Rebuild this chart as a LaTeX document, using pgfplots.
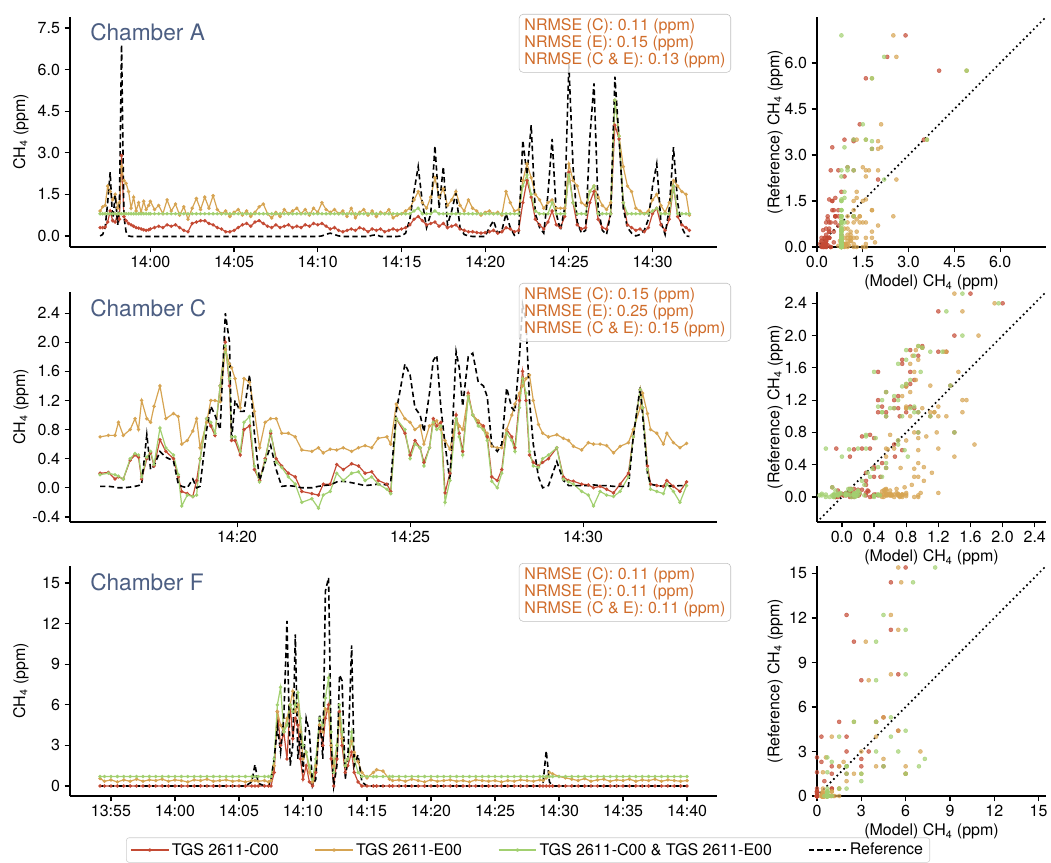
\documentclass[border=0pt]{standalone}
\usepackage{fontspec}
\setmainfont{TeX Gyre Heros}
\usepackage{pgfplots}
\usepackage{pgfplotstable}
\pgfplotsset{compat=1.18}
\definecolor{cred}{RGB}{196,74,52}
\definecolor{corg}{RGB}{214,164,82}
\definecolor{cgrn}{RGB}{162,208,112}
\definecolor{ctitle}{RGB}{76,94,130}
\definecolor{cnrm}{RGB}{208,108,42}

\pgfplotstableread{
t c e ce r
-3.00 0.30 0.90 0.80 0.00
-2.85 0.30 1.05 0.80 0.05
-2.70 0.32 1.10 0.80 0.30
-2.55 0.50 1.80 0.80 1.20
-2.40 0.90 1.60 0.80 2.30
-2.25 0.55 1.30 0.80 0.50
-2.10 0.50 1.50 0.80 1.50
-1.95 0.80 1.00 0.80 0.40
-1.85 0.60 1.20 0.80 1.00
-1.72 2.90 2.50 0.80 6.90
-1.58 0.70 2.00 0.80 0.70
-1.45 0.55 1.90 0.80 0.15
-1.30 0.45 1.60 0.80 0.00
-1.15 0.40 1.00 0.80 -0.02
-1.00 0.35 1.40 0.80 -0.02
-0.85 0.30 0.90 0.80 -0.02
-0.70 0.28 1.20 0.80 -0.02
-0.55 0.25 0.85 0.80 -0.02
-0.40 0.22 1.25 0.80 -0.02
-0.25 0.20 0.95 0.80 -0.02
-0.10 0.22 1.10 0.80 -0.02
0.00 0.25 1.25 0.80 -0.02
0.25 0.30 0.95 0.80 -0.02
0.50 0.35 1.10 0.80 -0.02
0.75 0.30 0.80 0.80 -0.02
1.00 0.40 1.30 0.80 -0.02
1.25 0.35 0.90 0.80 -0.02
1.50 0.40 1.15 0.80 -0.02
1.75 0.30 0.75 0.80 -0.02
2.00 0.20 1.05 0.80 -0.02
2.25 0.15 0.60 0.80 -0.02
2.50 0.45 1.00 0.80 -0.02
2.75 0.50 1.35 0.80 -0.02
3.00 0.55 0.95 0.80 -0.02
3.25 0.55 1.40 0.80 -0.02
3.50 0.45 1.00 0.80 -0.02
3.75 0.40 1.45 0.80 -0.02
4.00 0.30 0.95 0.80 -0.02
4.25 0.25 0.80 0.80 -0.02
4.50 0.15 0.90 0.80 -0.02
4.75 0.15 0.70 0.80 -0.02
5.00 0.20 0.85 0.80 -0.02
5.25 0.30 0.95 0.80 -0.02
5.50 0.40 0.75 0.80 -0.02
5.75 0.45 0.90 0.80 -0.02
6.00 0.35 0.70 0.80 -0.02
6.25 0.50 0.85 0.80 -0.02
6.50 0.55 1.05 0.80 -0.02
6.75 0.45 1.15 0.80 -0.02
7.00 0.35 0.80 0.80 -0.02
7.25 0.30 0.65 0.80 -0.02
7.50 0.40 0.85 0.80 -0.02
7.75 0.30 0.70 0.80 -0.02
8.00 0.35 0.95 0.80 -0.02
8.25 0.40 0.80 0.80 -0.02
8.50 0.30 0.90 0.80 -0.02
8.75 0.35 1.00 0.80 -0.02
9.00 0.30 0.80 0.80 -0.02
9.25 0.40 0.95 0.80 -0.02
9.50 0.35 0.75 0.80 -0.02
9.75 0.45 1.00 0.80 -0.02
10.00 0.40 0.85 0.80 -0.02
10.25 0.45 1.20 0.80 0.00
10.50 0.35 0.95 0.80 0.06
10.75 0.25 0.85 0.80 0.10
11.00 0.30 0.95 0.80 0.05
11.25 0.20 0.80 0.80 0.00
11.50 0.15 0.90 0.80 -0.02
11.75 0.20 0.70 0.80 -0.02
12.00 0.25 1.00 0.80 -0.02
12.25 0.20 0.65 0.80 -0.02
12.50 0.30 0.85 0.80 -0.02
12.75 0.25 0.95 0.80 -0.02
13.00 0.15 0.75 0.80 -0.02
13.25 0.25 0.90 0.80 0.02
13.50 0.20 0.70 0.80 0.04
13.75 0.25 0.85 0.80 -0.02
14.00 0.15 0.80 0.80 -0.02
14.25 0.20 0.95 0.80 -0.02
14.50 0.25 0.65 0.80 -0.02
14.75 0.20 0.75 0.80 -0.02
15.00 0.25 0.80 0.80 0.00
15.25 0.30 0.90 0.80 0.10
15.50 0.40 1.00 0.80 0.60
15.75 0.60 1.30 0.90 1.60
16.00 0.70 1.60 1.00 2.50
16.25 0.55 1.20 0.80 1.20
16.50 0.40 1.00 0.80 0.30
16.75 0.45 1.40 0.80 0.80
17.00 0.50 2.10 0.90 3.25
17.25 0.35 1.40 0.80 1.00
17.50 0.45 1.70 0.80 2.50
17.75 0.30 1.10 0.80 0.40
18.00 0.35 1.30 0.80 0.90
18.25 0.40 1.60 0.80 1.55
18.50 0.25 1.10 0.80 0.30
18.75 0.20 0.90 0.80 0.05
19.00 0.15 1.30 0.80 0.00
19.25 0.15 1.00 0.80 -0.02
19.50 0.12 0.90 0.80 -0.02
19.75 0.10 0.75 0.80 -0.02
20.00 0.12 0.85 0.80 -0.02
20.25 0.15 0.90 0.80 0.30
20.50 0.20 0.80 0.80 0.55
20.75 0.10 0.85 0.80 0.10
21.00 0.15 0.75 0.80 0.20
21.25 0.30 1.60 0.80 0.80
21.50 0.25 1.20 0.80 0.30
21.75 0.15 0.90 0.80 0.02
22.00 0.20 0.95 0.80 0.10
22.25 1.20 2.00 1.80 3.45
22.50 2.00 2.60 2.20 2.20
22.75 1.40 2.10 1.50 4.00
23.00 0.60 1.50 0.90 0.80
23.25 0.40 1.30 0.80 0.30
23.50 0.25 1.00 0.80 0.10
23.75 0.50 1.20 0.80 1.50
24.00 0.90 1.30 1.20 3.50
24.25 0.40 1.00 0.80 0.80
24.50 0.30 1.00 0.80 0.20
24.75 0.70 1.00 0.80 1.00
25.00 2.30 2.60 2.20 6.20
25.25 1.20 2.00 1.20 2.50
25.50 0.40 1.80 0.80 0.50
25.75 0.25 1.20 0.80 0.10
26.00 0.30 1.10 0.80 0.20
26.25 1.20 1.60 1.60 3.50
26.50 1.60 1.80 1.80 5.50
26.75 0.60 1.40 0.80 1.00
27.00 0.30 1.10 0.80 0.20
27.25 0.25 0.95 0.80 0.05
27.50 0.80 1.20 0.80 0.80
27.75 4.00 4.90 4.90 5.75
28.00 3.50 3.60 3.60 3.50
28.25 1.20 2.50 1.20 1.00
28.50 0.40 1.80 0.80 0.30
28.75 0.30 1.60 0.80 0.10
29.00 0.20 1.00 0.80 0.00
29.25 0.25 0.90 0.80 0.05
29.50 0.15 0.80 0.80 0.20
29.75 0.30 0.90 0.80 0.60
30.00 0.80 1.30 0.90 1.80
30.25 1.00 1.50 1.00 2.60
30.50 0.40 1.10 0.80 0.50
30.75 0.20 0.85 0.80 0.05
31.00 0.60 1.20 0.80 1.00
31.25 1.80 2.00 1.80 3.20
31.50 0.70 1.80 0.80 1.20
31.75 0.40 1.60 0.80 0.30
32.00 0.30 1.50 0.80 0.00
32.20 0.20 0.75 0.80 -0.02
}\dataA

\pgfplotstableread{
t c e ce r
16.04 0.20 0.70 0.18 0.02
16.28 0.21 0.72 0.20 0.02
16.47 0.12 0.72 0.18 0.01
16.57 0.15 0.90 0.16 0.00
16.71 0.12 0.72 0.12 0.00
16.91 0.38 0.80 0.40 0.01
17.05 0.45 0.95 0.47 0.02
17.15 0.42 0.80 0.45 0.03
17.24 0.12 1.20 0.15 0.05
17.39 0.40 0.95 0.42 0.73
17.50 0.48 0.90 0.50 0.25
17.60 0.30 1.12 0.32 0.30
17.77 0.66 1.40 0.82 0.50
17.94 0.50 0.95 0.55 0.42
18.16 0.40 1.02 0.45 0.37
18.30 0.15 0.98 0.18 0.05
18.40 -0.05 0.60 -0.25 0.02
18.56 -0.08 0.65 -0.10 0.00
18.72 -0.12 0.78 -0.12 0.12
18.83 0.10 0.95 -0.10 0.00
18.93 0.40 0.55 0.40 0.02
19.12 0.95 0.90 0.95 0.80
19.24 0.85 1.20 0.90 1.12
19.36 0.72 1.20 0.75 1.00
19.51 1.40 1.18 1.40 0.80
19.66 2.00 1.90 1.95 2.40
19.78 1.40 1.70 1.50 2.00
19.84 0.65 1.65 0.70 0.65
19.94 0.65 1.50 0.70 1.20
20.09 0.45 1.10 0.50 1.05
20.20 0.80 1.50 0.90 1.05
20.36 0.85 1.45 0.98 1.55
20.50 0.25 1.05 0.30 0.75
20.65 0.10 0.55 0.08 0.10
20.81 0.40 0.90 0.38 0.35
20.97 0.75 0.95 0.78 0.58
21.13 0.40 0.95 0.35 0.25
21.29 0.30 0.75 0.28 0.02
21.48 0.20 0.75 0.15 0.03
21.68 0.15 0.70 0.05 0.02
21.87 -0.05 0.52 -0.20 0.00
22.16 -0.08 0.50 -0.15 0.00
22.35 -0.10 0.55 -0.28 0.02
22.49 0.05 0.48 -0.10 0.03
22.69 0.05 0.53 -0.05 0.04
22.88 0.32 0.52 0.20 0.08
23.07 0.25 0.55 0.10 0.09
23.31 0.33 0.50 0.20 0.07
23.51 0.30 0.55 0.22 0.05
23.70 0.20 0.58 0.10 0.03
23.89 0.22 0.55 0.15 0.04
24.08 0.10 0.68 0.05 0.05
24.33 0.05 0.70 -0.02 0.04
24.44 -0.05 0.60 -0.08 0.08
24.60 0.95 1.15 0.95 1.05
24.85 0.75 0.95 0.80 1.70
25.00 0.45 0.90 0.40 1.55
25.14 0.65 0.80 0.60 1.10
25.29 0.55 0.85 0.55 1.00
25.40 0.35 0.60 0.30 0.77
25.56 0.55 0.85 0.55 1.30
25.67 0.95 0.88 0.90 1.75
25.77 0.85 0.92 0.80 1.82
25.89 0.90 0.80 0.85 1.10
26.01 -0.07 0.65 -0.20 0.60
26.15 0.20 0.53 0.10 0.09
26.33 1.00 0.95 0.95 1.87
26.42 0.75 0.85 0.70 1.65
26.52 0.50 0.80 0.45 1.12
26.68 1.30 1.27 1.25 1.80
26.81 1.00 1.00 1.00 1.85
26.97 0.90 0.92 0.85 1.45
27.12 0.85 0.80 0.80 1.40
27.23 0.70 0.75 0.65 1.25
27.36 0.15 0.57 0.09 0.59
27.52 0.10 0.55 0.00 0.50
27.65 0.25 0.55 0.20 0.60
27.79 0.80 0.80 0.75 1.37
27.94 0.70 1.00 0.65 1.10
28.03 0.55 1.15 0.50 1.05
28.16 1.20 1.30 1.10 1.80
28.25 1.60 1.40 1.50 2.52
28.35 1.20 1.50 1.30 2.30
28.45 0.45 1.55 0.50 1.20
28.56 0.35 1.20 0.30 0.60
28.71 0.30 0.87 0.28 0.15
28.83 0.35 0.75 0.40 0.00
29.00 0.40 0.70 0.45 0.03
29.24 0.55 0.73 0.55 0.36
29.43 0.15 0.68 0.12 0.10
29.58 0.10 0.65 0.08 0.03
29.72 0.09 0.57 0.05 0.03
29.96 0.05 0.52 -0.05 0.03
30.15 0.04 0.62 -0.10 0.03
30.30 0.00 0.60 -0.25 0.04
30.49 0.02 0.60 -0.05 0.03
30.68 -0.02 0.58 -0.10 0.03
30.88 -0.07 0.48 -0.12 0.02
31.07 0.05 0.57 -0.05 0.02
31.31 0.20 0.62 0.15 0.02
31.45 0.70 0.80 0.70 0.70
31.65 1.35 1.10 1.35 1.38
31.72 1.10 1.30 1.10 1.00
31.86 0.30 1.02 0.25 0.20
31.95 0.05 0.80 -0.02 0.05
32.13 0.03 0.75 -0.05 0.03
32.32 0.02 0.60 -0.08 0.02
32.42 0.10 0.75 0.05 0.03
32.61 0.02 0.62 -0.05 0.02
32.80 -0.05 0.55 -0.20 0.03
32.99 0.08 0.61 0.03 0.03
}\dataC

\pgfplotstableread{
t c e ce r
-5.85 0.00 0.55 0.70 0.00
-5.50 0.00 0.35 0.70 0.00
-5.00 0.00 0.45 0.70 0.00
-4.50 0.00 0.30 0.70 0.00
-4.00 0.00 0.45 0.70 0.00
-3.50 0.00 0.35 0.70 0.00
-3.00 0.00 0.50 0.70 0.00
-2.50 0.00 0.35 0.70 0.00
-2.00 0.00 0.45 0.70 0.00
-1.50 0.00 0.40 0.70 0.00
-1.00 0.00 0.50 0.70 0.00
-0.50 0.00 0.35 0.70 0.00
0.00 0.00 0.45 0.70 0.00
0.50 0.00 0.40 0.70 0.00
1.00 0.00 0.30 0.70 0.00
1.50 0.00 0.45 0.70 0.00
2.00 0.00 0.40 0.70 0.00
2.50 0.00 0.50 0.70 0.00
3.00 0.00 0.35 0.70 0.00
3.50 0.00 0.40 0.70 0.00
4.00 0.00 0.45 0.70 0.00
4.50 0.00 0.35 0.70 0.00
5.00 0.00 0.40 0.70 0.00
5.50 0.00 0.30 0.70 0.00
6.00 0.00 0.40 0.70 0.30
6.25 0.00 0.40 0.70 1.60
6.50 0.00 0.35 0.70 0.20
7.00 0.00 0.40 0.70 0.00
7.30 0.00 0.30 0.70 0.00
7.50 0.00 0.40 0.70 0.50
7.75 1.00 1.50 2.00 2.00
8.00 5.50 5.50 6.00 4.40
8.25 3.00 4.50 7.30 2.50
8.50 4.00 4.00 4.00 5.00
8.75 2.00 5.00 4.50 12.20
9.00 6.00 6.00 6.00 1.50
9.20 3.50 7.00 5.50 3.00
9.40 5.00 5.50 6.00 11.20
9.60 4.50 6.00 6.90 2.00
9.80 2.00 4.00 5.00 4.00
10.00 0.50 2.00 3.00 1.00
10.25 1.50 2.50 2.50 5.00
10.50 0.30 1.00 1.50 4.00
10.75 0.00 0.30 0.50 0.00
11.00 1.00 1.50 2.00 0.50
11.30 4.50 4.50 5.00 5.30
11.55 3.00 4.00 4.50 2.00
11.75 5.00 5.70 6.50 14.40
12.00 6.00 5.50 8.00 15.40
12.20 2.00 3.00 4.00 3.00
12.40 0.00 1.50 1.00 0.00
12.65 2.00 3.00 3.00 1.50
12.85 5.50 5.00 6.00 8.20
13.05 3.00 3.50 4.00 7.80
13.30 1.00 1.50 1.50 0.50
13.50 1.50 2.00 2.00 2.00
13.80 2.50 3.30 4.00 10.40
14.00 1.00 2.50 2.00 1.50
14.30 0.30 1.80 1.00 2.30
14.60 0.00 1.00 0.70 0.30
15.00 0.00 0.60 0.70 0.00
15.50 0.00 1.00 0.70 0.00
15.75 0.00 1.20 0.70 0.00
16.25 0.00 1.10 0.70 0.00
16.75 0.00 0.50 0.70 0.00
17.00 0.00 0.40 0.70 0.00
17.50 0.00 0.45 0.70 0.00
18.00 0.00 0.35 0.70 0.00
18.50 0.00 0.50 0.70 0.00
19.00 0.00 0.40 0.70 0.00
19.50 0.00 0.30 0.70 0.00
20.00 0.00 0.45 0.70 0.00
20.50 0.00 0.35 0.70 0.00
21.00 0.00 0.40 0.70 0.00
21.50 0.00 0.45 0.70 0.00
22.00 0.00 0.35 0.70 0.00
22.50 0.00 0.40 0.70 0.00
23.00 0.00 0.30 0.70 0.00
23.50 0.00 0.45 0.70 0.00
24.00 0.00 0.40 0.70 0.00
24.50 0.00 0.35 0.70 0.00
25.00 0.00 0.40 0.70 0.00
25.50 0.00 0.30 0.70 0.00
26.00 0.00 0.40 0.70 0.00
26.50 0.00 0.35 0.70 0.00
27.00 0.00 0.45 0.70 0.00
27.50 0.00 0.40 0.70 0.00
28.00 0.00 0.35 0.70 0.00
28.50 0.00 0.45 0.70 0.00
28.75 0.00 0.40 0.70 0.20
29.00 0.00 0.60 0.70 2.60
29.25 0.00 1.00 0.70 0.30
29.50 0.00 0.90 0.70 0.00
30.00 0.00 0.70 0.70 0.00
30.50 0.00 0.60 0.70 0.00
31.00 0.00 0.50 0.70 0.00
31.50 0.00 0.40 0.70 0.00
32.00 0.00 0.55 0.70 0.00
32.50 0.00 0.35 0.70 0.00
33.00 0.00 0.45 0.70 0.00
33.50 0.00 0.50 0.70 0.00
34.00 0.00 0.35 0.70 0.00
34.50 0.00 0.45 0.70 0.00
35.00 0.00 0.40 0.70 0.00
35.50 0.00 0.50 0.70 0.00
36.00 0.00 0.35 0.70 0.00
36.50 0.00 0.45 0.70 0.00
37.00 0.00 0.40 0.70 0.00
37.50 0.00 0.50 0.70 0.00
38.00 0.00 0.35 0.70 0.00
38.50 0.00 0.45 0.70 0.00
39.00 0.00 0.40 0.70 0.00
39.50 0.00 0.35 0.70 0.00
40.00 0.00 0.40 0.70 0.00
}\dataF

\pgfplotsset{
  base/.style={scale only axis, anchor=north west,
    axis x line*=bottom, axis y line*=left,
    axis line style={line width=1.6pt,-},
    tick align=outside, major tick length=4pt,
    tick style={black,line width=0.9pt},
    tick label style={font=\fontsize{12}{14}\selectfont},
    xticklabel style={yshift=1pt},
    label style={font=\fontsize{12}{14}\selectfont},
    /pgf/number format/assume math mode=true},
  ts/.style={base, width=485.25pt, height=172.5pt,
    ylabel={CH\textsubscript{4} (ppm)},
    ylabel style={at={(axis description cs:-0.076,0.5)},anchor=center}},
  sc/.style={base, width=171.75pt, height=172.5pt,
    xlabel={(Model) CH\textsubscript{4} (ppm)},
    ylabel={(Reference) CH\textsubscript{4} (ppm)},
    xlabel style={at={(axis description cs:0.5,-0.155)},anchor=center},
    ylabel style={at={(axis description cs:-0.183,0.5)},anchor=center}},
  onedec/.style={#1ticklabel style={/pgf/number format/.cd,fixed,fixed zerofill,precision=1}},
  lred/.style={cred, line width=0.9pt, mark=*, mark size=0.8pt},
  lorg/.style={corg, line width=0.9pt, mark=*, mark size=0.8pt},
  lgrn/.style={cgrn, line width=0.9pt, mark=*, mark size=0.8pt},
  lref/.style={black, line width=1.2pt, dash pattern=on 4pt off 2.5pt},
  sred/.style={cred, only marks, mark=*, mark size=1.5pt, opacity=0.7},
  sorg/.style={corg, only marks, mark=*, mark size=1.5pt, opacity=0.7},
  sgrn/.style={cgrn, only marks, mark=*, mark size=1.5pt, opacity=0.7},
  diag/.style={black, line width=1.8pt, line cap=round, dash pattern=on 0pt off 3.6pt},
}
\tikzset{
  chtitle/.style={anchor=west, text=ctitle, font=\fontsize{17}{20}\selectfont, inner sep=0pt},
  nbox/.style={anchor=north east, draw=black!25, rounded corners=3pt, fill=white, fill opacity=0.8,
    text opacity=1, text=cnrm, align=left, inner xsep=4pt, inner ysep=3pt,
    font=\fontsize{12}{13}\selectfont},
}

\begin{document}
\begin{tikzpicture}
\path[use as bounding box] (0,0) rectangle (788.25pt,-647.25pt);

% ---------------- Chamber A ----------------
\begin{axis}[ts, name=axA, at={(52.5pt,-12.75pt)},
  xmin=-4.8, xmax=33.85, ymin=-0.4, ymax=7.9,
  ytick={0,1.5,3,4.5,6,7.5}, onedec=y,
  xtick={0,5,10,15,20,25,30},
  xticklabels={14:00,14:05,14:10,14:15,14:20,14:25,14:30}]
\addplot[lred] table[x=t,y=c]{\dataA};
\addplot[lorg] table[x=t,y=e]{\dataA};
\addplot[lgrn] table[x=t,y=ce]{\dataA};
\addplot[lref] table[x=t,y=r]{\dataA};
\end{axis}
\node[chtitle] at ([xshift=15pt,yshift=-11.25pt]axA.north west) {Chamber A};
\node[nbox] at ([xshift=10.5pt,yshift=2.25pt]axA.north east)
  {NRMSE (C): 0.11 (ppm)\\NRMSE (E): 0.15 (ppm)\\NRMSE (C \& E): 0.13 (ppm)};

\begin{axis}[sc, name=sA, at={(612.75pt,-12.75pt)},
  xmin=0, xmax=7.5, ymin=0, ymax=7.5,
  xtick={0,1.5,3,4.5,6}, ytick={0,1.5,3,4.5,6}, onedec=x, onedec=y]
\addplot[sred] table[x=c,y=r]{\dataA};
\addplot[sorg] table[x=e,y=r]{\dataA};
\addplot[sgrn] table[x=ce,y=r]{\dataA};
\addplot[diag] coordinates {(0,0) (7.5,7.5)};
\end{axis}

% ---------------- Chamber C ----------------
\begin{axis}[ts, name=axC, at={(52.5pt,-219pt)},
  xmin=15.17, xmax=33.87, ymin=-0.47, ymax=2.69,
  ytick={-0.4,0,0.4,0.8,1.2,1.6,2.0,2.4}, onedec=y,
  xtick={20,25,30}, xticklabels={14:20,14:25,14:30}]
\addplot[lred] table[x=t,y=c]{\dataC};
\addplot[lorg] table[x=t,y=e]{\dataC};
\addplot[lgrn] table[x=t,y=ce]{\dataC};
\addplot[lref] table[x=t,y=r]{\dataC};
\end{axis}
\node[chtitle] at ([xshift=15pt,yshift=-12pt]axC.north west) {Chamber C};
\node[nbox] at ([xshift=10.5pt,yshift=6.75pt]axC.north east)
  {NRMSE (C): 0.15 (ppm)\\NRMSE (E): 0.25 (ppm)\\NRMSE (C \& E): 0.15 (ppm)};

\begin{axis}[sc, name=sC, at={(612.75pt,-219pt)},
  xmin=-0.31, xmax=2.54, ymin=-0.31, ymax=2.54,
  xtick={0,0.4,0.8,1.2,1.6,2.0,2.4}, ytick={0,0.4,0.8,1.2,1.6,2.0,2.4}, onedec=x, onedec=y]
\addplot[sred] table[x=c,y=r]{\dataC};
\addplot[sorg] table[x=e,y=r]{\dataC};
\addplot[sgrn] table[x=ce,y=r]{\dataC};
\addplot[diag] coordinates {(-0.31,-0.31) (2.54,2.54)};
\end{axis}

% ---------------- Chamber F ----------------
\begin{axis}[ts, name=axF, at={(52.5pt,-424.5pt)},
  xmin=-8.2, xmax=42.34, ymin=-0.74, ymax=16.26,
  ytick={0,3,6,9,12,15},
  xtick={-5,0,5,10,15,20,25,30,35,40},
  xticklabels={13:55,14:00,14:05,14:10,14:15,14:20,14:25,14:30,14:35,14:40},
  legend columns=4,
  legend style={at={(0.708,-0.235)}, anchor=center, draw=black!20, rounded corners=2pt,
    font=\fontsize{12}{14}\selectfont, inner xsep=3pt, inner ysep=2pt,
    /tikz/every even column/.append style={column sep=25pt}},
  legend image post style={xscale=1.65}]
\addplot[lred] table[x=t,y=c]{\dataF};
\addlegendentry{TGS 2611-C00}
\addplot[lorg] table[x=t,y=e]{\dataF};
\addlegendentry{TGS 2611-E00}
\addplot[lgrn] table[x=t,y=ce]{\dataF};
\addlegendentry{TGS 2611-C00 \& TGS 2611-E00}
\addplot[lref] table[x=t,y=r]{\dataF};
\addlegendentry{Reference}
\end{axis}
\node[chtitle] at ([xshift=15pt,yshift=-12pt]axF.north west) {Chamber F};
\node[nbox] at ([xshift=10.5pt,yshift=2.25pt]axF.north east)
  {NRMSE (C): 0.11 (ppm)\\NRMSE (E): 0.11 (ppm)\\NRMSE (C \& E): 0.11 (ppm)};

\begin{axis}[sc, name=sF, at={(612.75pt,-424.5pt)},
  xmin=0, xmax=15.5, ymin=0, ymax=15.5,
  xtick={0,3,6,9,12,15}, ytick={0,3,6,9,12,15}]
\addplot[sred] table[x=c,y=r]{\dataF};
\addplot[sorg] table[x=e,y=r]{\dataF};
\addplot[sgrn] table[x=ce,y=r]{\dataF};
\addplot[diag] coordinates {(0,0) (15.5,15.5)};
\end{axis}
\end{tikzpicture}
\end{document}
